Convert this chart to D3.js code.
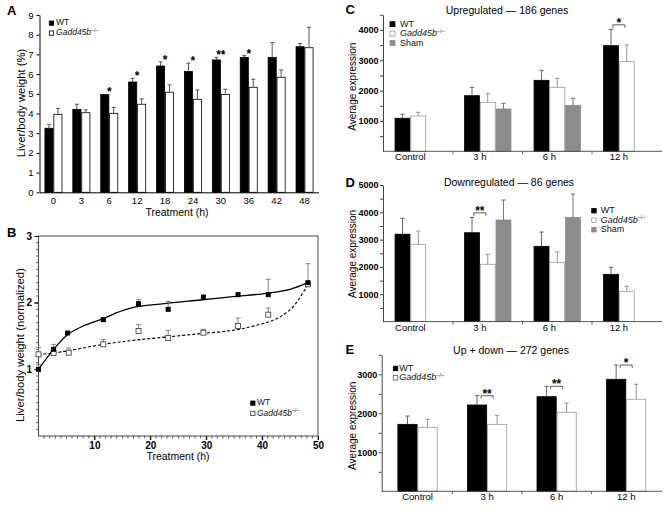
<!DOCTYPE html>
<html>
<head>
<meta charset="utf-8">
<script src="https://cdn.jsdelivr.net/npm/d3@7"></script>
<style>
  body { margin: 0; background: #fff; }
  svg { display: block; }
</style>
</head>
<body>
<svg id="chart" width="665" height="510"></svg>
<script>
// ---- panel A : liver/body weight (%) ----
const timesA = ["0", "3", "6", "12", "18", "24", "30", "36", "42", "48"];
const wtA = [3.25, 4.21, 4.97, 5.6, 6.41, 6.13, 6.72, 6.85, 6.84, 7.39];
const wtAErr = [3.45, 4.47, 4.99, 5.79, 6.62, 6.55, 6.85, 6.94, 7.6, 7.55];
const koA = [3.96, 4.04, 4.01, 4.47, 5.08, 4.72, 4.97, 5.33, 5.84, 7.34];
const koAErr = [4.26, 4.18, 4.31, 4.74, 5.45, 5.19, 5.23, 5.74, 6.21, 8.38];
const starsA = ["", "", "*", "*", "*", "*", "**", "*", "", ""];

// ---- panel B : normalized, with fitted curves ----
const wtBTime = [0, 2.7, 5.2, 11.6, 17.9, 23.2, 29.5, 35.7, 41.1, 48.2];
const wtB = [1.0, 1.3, 1.545, 1.745, 1.985, 1.9, 2.085, 2.12, 2.12, 2.3];
const wtBErr = [1.07, 1.375, 1.545, 1.77, 2.05, 2.02, 2.085, 2.145, 2.35, 2.585];
const koBTime = [0, 2.7, 5.4, 11.6, 17.9, 23.2, 29.5, 35.7, 41.1, 48.2];
const koB = [1.225, 1.245, 1.25, 1.375, 1.575, 1.47, 1.55, 1.65, 1.82, 2.275];
const koBErr = [1.325, 1.31, 1.32, 1.45, 1.67, 1.585, 1.6, 1.77, 1.92, 2.275];
const wtFitX = [0, 2.7, 5.2, 8, 11.6, 13.7, 17, 22.9, 28.9, 34.8, 40.8, 45, 48.2];
const wtFitY = [1.0, 1.3, 1.52, 1.65, 1.76, 1.84, 1.93, 1.99, 2.04, 2.09, 2.14, 2.2, 2.3];
const koFitX = [0, 2.7, 5.4, 11.6, 17, 22.9, 28.9, 34.8, 39, 42.6, 45.5, 48.2];
const koFitY = [1.225, 1.245, 1.28, 1.375, 1.435, 1.485, 1.535, 1.585, 1.66, 1.76, 1.935, 2.275];

// ---- panels C, D, E : average expression ----
const groups = ["Control", "3 h", "6 h", "12 h"];

const wtC = [1090, 1833, 2340, 3482];
const wtCErr = [1220, 2110, 2670, 4022];
const koC = [1164, 1615, 2110, 2955];
const koCErr = [1285, 1912, 2407, 3505];
const shamC = [null, 1395, 1517, null];
const shamCErr = [null, 1582, 1747, null];
const sigC = ["", "", "", "*"];

const wtD = [3200, 3253, 2755, 1730];
const wtDErr = [3780, 3816, 3278, 1987];
const koD = [2828, 2097, 2170, 1108];
const koDErr = [3315, 2463, 2547, 1292];
const shamD = [null, 3718, 3816, null];
const shamDErr = [null, 4450, 4669, null];
const sigD = ["", "**", "", ""];

const wtE = [1717, 2213, 2426, 2872];
const wtEErr = [1930, 2451, 2692, 3238];
const koE = [1641, 1717, 2026, 2359];
const koEErr = [1846, 1948, 2264, 2744];
const sigE = ["", "**", "**", "*"];

const FONT = '"Liberation Sans", Arial, Helvetica, sans-serif';
const svg = d3.select("#chart").attr("font-family", FONT);
svg.append("rect").attr("width", 665).attr("height", 510).attr("fill", "#fff");

// "Gadd45b-/-" with italic gene name and superscript
function gaddLabel(text, fs) {
  text.append("tspan").attr("font-style", "italic").text("Gadd45b");
  text.append("tspan").attr("font-size", fs * 0.62).attr("dy", -fs * 0.38).text("–/–");
}

function legend(g, o) {
  o.rows.forEach((r, i) => {
    const yy = o.y + i * o.gap;
    g.append("rect")
      .attr("x", o.x).attr("y", yy - o.box)
      .attr("width", o.box).attr("height", o.box)
      .attr("fill", r.fill).attr("stroke", r.stroke).attr("stroke-width", 0.8);
    const t = g.append("text")
      .attr("x", o.x + o.box + o.dx).attr("y", yy)
      .attr("font-size", o.fs).attr("fill", "#111");
    if (r.key === "KO") gaddLabel(t, o.fs); else t.text(r.key);
  });
}

function panelLetter(letter, x, y) {
  svg.append("text").attr("x", x).attr("y", y)
    .attr("font-size", 13).attr("font-weight", "bold").text(letter);
}

function errBar(g, x, y0, y1, cap, color) {
  if (Math.abs(y0 - y1) < 0.5) return;
  g.append("line").attr("x1", x).attr("x2", x).attr("y1", y0).attr("y2", y1)
    .attr("stroke", color).attr("stroke-width", 0.9);
  g.append("line").attr("x1", x - cap).attr("x2", x + cap).attr("y1", y1).attr("y2", y1)
    .attr("stroke", color).attr("stroke-width", 0.9);
}

// ================= Panel A =================
(function () {
  const g = svg.append("g");
  const x = d3.scaleBand().domain(timesA).range([39.5, 318.5]).paddingInner(0.36).paddingOuter(0.18);
  const xs = d3.scaleBand().domain(["WT", "KO"]).range([0, x.bandwidth()]);
  const y = d3.scaleLinear().domain([0, 9]).range([192.3, 15]);

  const series = [
    { key: "WT", vals: wtA, errs: wtAErr, fill: "#000", stroke: "#000" },
    { key: "KO", vals: koA, errs: koAErr, fill: "#fff", stroke: "#000" }
  ];
  series.forEach(s => {
    const rows = timesA.map((t, i) => ({ t, v: s.vals[i], e: s.errs[i] }));
    g.append("g").selectAll("rect").data(rows).join("rect")
      .attr("x", d => x(d.t) + xs(s.key) + 0.4)
      .attr("y", d => y(d.v))
      .attr("width", xs.bandwidth() - 0.8)
      .attr("height", d => y(0) - y(d.v))
      .attr("fill", s.fill).attr("stroke", s.stroke).attr("stroke-width", 0.8);
    rows.forEach(d => errBar(g, x(d.t) + xs(s.key) + xs.bandwidth() / 2, y(d.v), y(d.e), 2, "#444"));
  });

  timesA.forEach((t, i) => {
    if (!starsA[i]) return;
    g.append("text").attr("x", x(t) + x.bandwidth() / 2).attr("y", y(wtAErr[i]) + 2)
      .attr("text-anchor", "middle").attr("font-size", 12).attr("font-weight", "bold")
      .text(starsA[i]);
  });

  const ya = g.append("g").attr("transform", "translate(39.5,0)")
    .call(d3.axisLeft(y).ticks(9).tickSize(3).tickSizeOuter(0));
  ya.attr("font-family", FONT).attr("font-size", 9.5);
  const xa = g.append("g").attr("transform", `translate(0,${y(0)})`)
    .call(d3.axisBottom(x).tickSize(0).tickPadding(4.5));
  xa.attr("font-family", FONT).attr("font-size", 9.5);

  g.append("text").attr("x", 177).attr("y", 215.5).attr("text-anchor", "middle")
    .attr("font-size", 10.5).text("Treatment (h)");
  g.append("text").attr("transform", "translate(25,103) rotate(-90)").attr("text-anchor", "middle")
    .attr("font-size", 11.3).text("Liver/body weight (%)");

  legend(g, {
    x: 49.3, y: 25.3, gap: 10, box: 4.3, dx: 2.5, fs: 8.5,
    rows: [{ key: "WT", fill: "#000", stroke: "#000" }, { key: "KO", fill: "#fff", stroke: "#000" }]
  });
  panelLetter("A", 7, 15);
})();

// ================= Panel B =================
(function () {
  const g = svg.append("g");
  const x = d3.scaleLinear().domain([0, 50]).range([38.5, 318]);
  const y = d3.scaleLinear().domain([0, 3]).range([436, 236]);

  g.append("rect").attr("x", 38.5).attr("y", 236).attr("width", 279.5).attr("height", 200)
    .attr("fill", "none").attr("stroke", "#333").attr("stroke-width", 0.9);

  // minor ticks
  g.append("g").selectAll("line").data(d3.range(1, 51)).join("line")
    .attr("x1", d => x(d)).attr("x2", d => x(d)).attr("y1", y(0))
    .attr("y2", d => y(0) + (d % 10 === 0 ? 4 : 2.5)).attr("stroke", "#333").attr("stroke-width", 0.8);
  g.append("g").selectAll("line").data(d3.range(1, 30)).join("line")
    .attr("y1", d => y(d / 10)).attr("y2", d => y(d / 10)).attr("x1", x(0))
    .attr("x2", d => x(0) - (d % 10 === 0 ? 4 : 2.5)).attr("stroke", "#333").attr("stroke-width", 0.8);

  const xa = g.append("g").attr("transform", `translate(0,${y(0)})`)
    .call(d3.axisBottom(x).tickValues([10, 20, 30, 40, 50]).tickFormat(d3.format("d"))
      .tickSize(4).tickSizeOuter(0).tickPadding(1.5));
  xa.attr("font-family", FONT).attr("font-size", 10).attr("font-weight", "bold");
  xa.select(".domain").remove();
  const ya = g.append("g").attr("transform", `translate(${x(0)},0)`)
    .call(d3.axisLeft(y).tickValues([1, 2, 3]).tickFormat(d3.format("d"))
      .tickSize(4).tickSizeOuter(0).tickPadding(2.5));
  ya.attr("font-family", FONT).attr("font-size", 10).attr("font-weight", "bold");
  ya.select(".domain").remove();

  const line = d3.line().x(d => x(d[0])).y(d => y(d[1])).curve(d3.curveCatmullRom.alpha(0.5));
  g.append("path").attr("d", line(d3.zip(wtFitX, wtFitY)))
    .attr("fill", "none").attr("stroke", "#000").attr("stroke-width", 1.3);
  g.append("path").attr("d", line(d3.zip(koFitX, koFitY)))
    .attr("fill", "none").attr("stroke", "#000").attr("stroke-width", 1.1).attr("stroke-dasharray", "3,2");

  wtBTime.forEach((t, i) => errBar(g, x(t), y(wtB[i]), y(wtBErr[i]), 2.5, "#777"));
  koBTime.forEach((t, i) => errBar(g, x(t), y(koB[i]), y(koBErr[i]), 2.5, "#777"));

  const s = 5;
  g.append("g").selectAll("rect").data(d3.zip(koBTime, koB)).join("rect")
    .attr("x", d => x(d[0]) - s / 2).attr("y", d => y(d[1]) - s / 2)
    .attr("width", s).attr("height", s).attr("fill", "#fff").attr("stroke", "#333").attr("stroke-width", 0.8);
  g.append("g").selectAll("rect").data(d3.zip(wtBTime, wtB)).join("rect")
    .attr("x", d => x(d[0]) - s / 2).attr("y", d => y(d[1]) - s / 2)
    .attr("width", s).attr("height", s).attr("fill", "#000");

  g.append("text").attr("x", 178).attr("y", 460).attr("text-anchor", "middle")
    .attr("font-size", 10.5).text("Treatment (h)");
  g.append("text").attr("transform", "translate(24,345) rotate(-90)").attr("text-anchor", "middle")
    .attr("font-size", 11.3).text("Liver/body weight (normalized)");

  legend(g, {
    x: 250.7, y: 405.3, gap: 10.2, box: 4.3, dx: 2, fs: 8.5,
    rows: [{ key: "WT", fill: "#000", stroke: "#000" }, { key: "KO", fill: "#fff", stroke: "#333" }]
  });
  panelLetter("B", 7, 236.5);
})();

// ================= Panels C, D, E =================
function groupPanel(cfg) {
  const g = svg.append("g");
  const x0 = d3.scaleBand().domain(groups).range(cfg.xRange).paddingInner(cfg.pi).paddingOuter(cfg.po);
  const keys = cfg.series.map(s => s.key);
  const x1 = d3.scaleBand().domain(keys).range([0, x0.bandwidth()]);
  const y = d3.scaleLinear().domain([0, cfg.yMax]).range(cfg.yRange);
  const bw = x1.bandwidth();

  cfg.series.forEach(s => {
    const rows = groups.map((grp, i) => ({ grp, v: s.vals[i], e: s.errs[i] })).filter(d => d.v != null);
    g.append("g").selectAll("rect").data(rows).join("rect")
      .attr("x", d => x0(d.grp) + x1(s.key) + 0.4)
      .attr("y", d => y(d.v))
      .attr("width", bw - 0.8)
      .attr("height", d => y(0) - y(d.v))
      .attr("fill", s.fill).attr("stroke", s.stroke).attr("stroke-width", 0.8);
    rows.forEach(d => errBar(g, x0(d.grp) + x1(s.key) + bw / 2, y(d.v), y(d.e), 2.2, s.err));
  });

  // significance brackets
  groups.forEach((grp, i) => {
    if (!cfg.sig[i]) return;
    const cx = x0(grp) + bw;
    const by = y(cfg.series[0].errs[i]) + cfg.brOff;
    g.append("path").attr("d", `M${cx - 6},${by + 3}V${by}H${cx + 6}V${by + 3}`)
      .attr("fill", "none").attr("stroke", "#333").attr("stroke-width", 0.8);
    g.append("text").attr("x", cx).attr("y", by + 2).attr("text-anchor", "middle")
      .attr("font-size", 12).attr("font-weight", "bold").text(cfg.sig[i]);
  });

  // y axis
  const ya = g.append("g").attr("transform", `translate(${cfg.xRange[0]},0)`)
    .call(d3.axisLeft(y).tickValues(d3.range(500, cfg.yMax + 1, 500))
      .tickFormat(d => d % 1000 === 0 ? d : "").tickSize(3).tickSizeOuter(0).tickPadding(1.5));
  ya.attr("font-family", FONT).attr("font-size", 9).attr("font-weight", "bold");
  ya.selectAll("line, path").attr("stroke", "#444");

  // x axis
  const y0 = y(0);
  g.append("line").attr("x1", cfg.xRange[0]).attr("x2", cfg.xRange[1]).attr("y1", y0).attr("y2", y0)
    .attr("stroke", "#444").attr("stroke-width", 0.9);
  g.append("g").selectAll("line").data(groups.slice(1)).join("line")
    .attr("x1", d => x0(d) - x0.step() * x0.paddingInner() / 2)
    .attr("x2", d => x0(d) - x0.step() * x0.paddingInner() / 2)
    .attr("y1", y0).attr("y2", y0 + 3).attr("stroke", "#444").attr("stroke-width", 0.8);
  g.append("g").selectAll("text").data(groups).join("text")
    .attr("x", d => x0(d) + bw).attr("y", y0 + 9)
    .attr("text-anchor", "middle").attr("font-size", 9.5).text(d => d);

  g.append("text").attr("x", cfg.title[0]).attr("y", cfg.title[1]).attr("text-anchor", "middle")
    .attr("font-size", 10.5).text(cfg.title[2]);
  g.append("text").attr("transform", `translate(355.5,${cfg.yTitle}) rotate(-90)`).attr("text-anchor", "middle")
    .attr("font-size", 10).text("Average expression");

  legend(g, cfg.legend);
  panelLetter(cfg.letter, 345.5, cfg.letterY);
}

const wtStyle = { fill: "#000", stroke: "#000", err: "#555" };
const koStyle = { fill: "#fff", stroke: "#999", err: "#888" };
const shamStyle = { fill: "#8c8c8c", stroke: "#8c8c8c", err: "#666" };

groupPanel({
  letter: "C", letterY: 14,
  xRange: [383, 662], pi: 0.321, po: 0.1675,
  yMax: 4500, yRange: [151.3, 14.8],
  series: [
    { key: "WT", vals: wtC, errs: wtCErr, ...wtStyle },
    { key: "KO", vals: koC, errs: koCErr, ...koStyle },
    { key: "Sham", vals: shamC, errs: shamCErr, ...shamStyle }
  ],
  sig: sigC, brOff: -4.5,
  title: [507, 14, "Upregulated — 186 genes"], yTitle: 86.7,
  legend: {
    x: 390, y: 26.7, gap: 9.4, box: 5, dx: 5, fs: 9,
    rows: [{ key: "WT", fill: "#000", stroke: "#000" }, { key: "KO", fill: "#fff", stroke: "#999" },
      { key: "Sham", fill: "#8c8c8c", stroke: "#8c8c8c" }]
  }
});

groupPanel({
  letter: "D", letterY: 187,
  xRange: [383, 662], pi: 0.321, po: 0.1675,
  yMax: 5000, yRange: [321.6, 185],
  series: [
    { key: "WT", vals: wtD, errs: wtDErr, ...wtStyle },
    { key: "KO", vals: koD, errs: koDErr, ...koStyle },
    { key: "Sham", vals: shamD, errs: shamDErr, ...shamStyle }
  ],
  sig: sigD, brOff: -4.5,
  title: [509, 186, "Downregulated — 86 genes"], yTitle: 254,
  legend: {
    x: 591.7, y: 213, gap: 9.5, box: 4.5, dx: 4.5, fs: 9,
    rows: [{ key: "WT", fill: "#000", stroke: "#000" }, { key: "KO", fill: "#fff", stroke: "#999" },
      { key: "Sham", fill: "#8c8c8c", stroke: "#8c8c8c" }]
  }
});

groupPanel({
  letter: "E", letterY: 354,
  xRange: [381.7, 662], pi: 0.424, po: 0.227,
  yMax: 3500, yRange: [491.3, 354.8],
  series: [
    { key: "WT", vals: wtE, errs: wtEErr, ...wtStyle },
    { key: "KO", vals: koE, errs: koEErr, ...koStyle }
  ],
  sig: sigE, brOff: 0,
  title: [511, 354, "Up + down — 272 genes"], yTitle: 425.8,
  legend: {
    x: 393.3, y: 370.7, gap: 9.3, box: 4.5, dx: 1.5, fs: 9,
    rows: [{ key: "WT", fill: "#000", stroke: "#000" }, { key: "KO", fill: "#fff", stroke: "#555" }]
  }
});
</script>
</body>
</html>
